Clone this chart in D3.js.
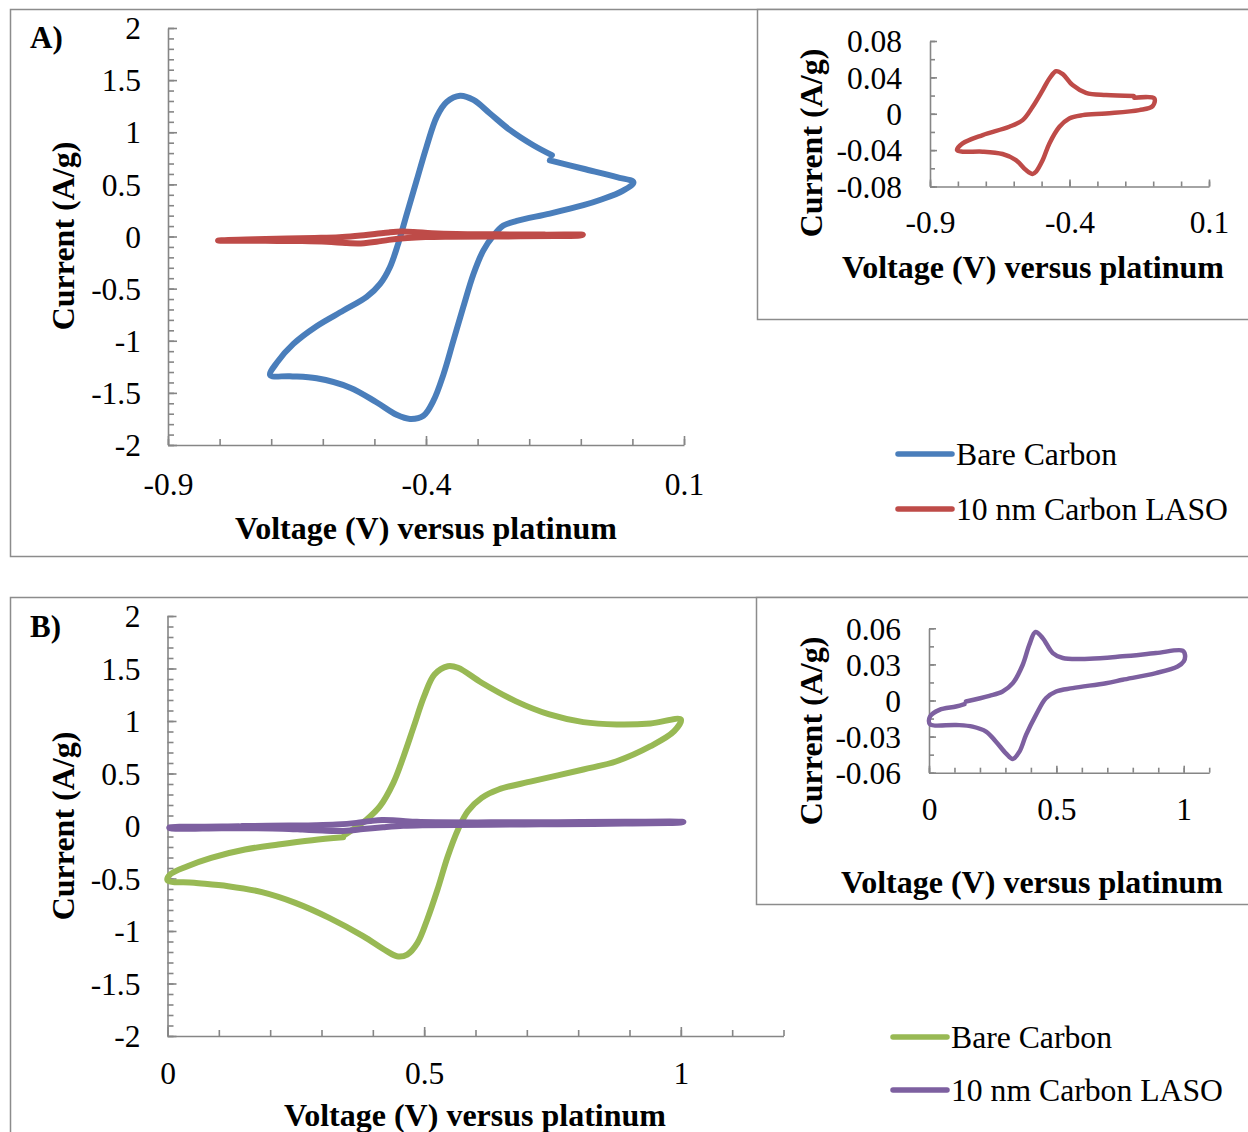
<!DOCTYPE html>
<html>
<head>
<meta charset="utf-8">
<script src="https://cdn.jsdelivr.net/npm/d3@7"></script>
<style>
  html, body { margin: 0; padding: 0; background: #fff; }
  svg { display: block; }
  text { font-family: "Liberation Serif", "Times New Roman", serif; fill: #000; }
</style>
</head>
<body>
<script>
// ---------------- DATA ----------------
// Panel A: Bare Carbon (voltage V, current A/g), in scan order
const panelA_bare = [
  [-0.160,0.73],[-0.095,0.65],[-0.030,0.57],[0.002,0.52],[-0.018,0.44],[-0.063,0.35],
  [-0.095,0.30],[-0.160,0.22],[-0.224,0.15],[-0.250,0.105],[-0.269,0.01],[-0.289,-0.135],
  [-0.308,-0.36],[-0.328,-0.68],[-0.347,-1.0],[-0.366,-1.32],[-0.386,-1.58],[-0.405,-1.72],
  [-0.431,-1.75],[-0.457,-1.71],[-0.496,-1.59],[-0.547,-1.45],[-0.612,-1.36],[-0.664,-1.34],
  [-0.702,-1.33],[-0.689,-1.21],[-0.657,-1.03],[-0.612,-0.86],[-0.560,-0.71],[-0.515,-0.58],
  [-0.489,-0.455],[-0.470,-0.295],[-0.454,-0.07],[-0.437,0.22],[-0.418,0.54],[-0.399,0.86],
  [-0.379,1.15],[-0.360,1.29],[-0.334,1.35],[-0.308,1.31],[-0.276,1.18],[-0.237,1.02],
  [-0.192,0.875],[-0.156,0.78]
];
// Panel A: 10 nm Carbon LASO
const panelA_laso = [
  [-0.168,0.0175],[-0.096,0.0168],[-0.102,0.0084],[-0.150,0.004],[-0.269,0.0004],
  [-0.353,-0.0015],[-0.401,-0.0051],[-0.436,-0.0143],[-0.472,-0.0326],[-0.496,-0.0509],
  [-0.520,-0.0637],[-0.532,-0.0662],[-0.556,-0.0619],[-0.592,-0.0509],[-0.640,-0.0443],
  [-0.711,-0.0417],[-0.783,-0.0417],[-0.803,-0.040],[-0.783,-0.0326],[-0.711,-0.0234],
  [-0.616,-0.0143],[-0.568,-0.007],[-0.532,0.0077],[-0.496,0.026],[-0.472,0.0388],
  [-0.448,0.0468],[-0.424,0.0436],[-0.389,0.0315],[-0.341,0.023],[-0.269,0.0205],
  [-0.170,0.0195]
];
// Panel B: Bare Carbon
const panelB_bare = [
  [0.345,-0.085],[0.361,-0.033],[0.388,0.062],[0.414,0.189],[0.440,0.411],[0.460,0.665],
  [0.480,0.951],[0.500,1.236],[0.520,1.443],[0.546,1.522],[0.566,1.507],[0.612,1.364],
  [0.678,1.189],[0.744,1.062],[0.810,0.989],[0.875,0.967],[0.941,0.976],[1.0,1.014],
  [0.987,0.903],[0.941,0.760],[0.875,0.617],[0.810,0.538],[0.711,0.427],[0.645,0.348],
  [0.612,0.268],[0.585,0.141],[0.566,-0.033],[0.546,-0.288],[0.526,-0.605],[0.506,-0.890],
  [0.487,-1.113],[0.467,-1.224],[0.447,-1.240],[0.427,-1.192],[0.381,-1.049],[0.315,-0.875],
  [0.249,-0.732],[0.184,-0.630],[0.118,-0.573],[0.052,-0.541],[0.0,-0.516],[0.005,-0.462],
  [0.039,-0.383],[0.085,-0.303],[0.151,-0.224],[0.216,-0.176],[0.282,-0.135],[0.342,-0.108]
];
// Panel B: 10 nm Carbon LASO
const panelB_laso = [
  [0.145,-0.0008],[0.237,0.0039],[0.289,0.0075],[0.329,0.0144],[0.368,0.0297],[0.394,0.0464],
  [0.418,0.0569],[0.446,0.052],[0.486,0.0394],[0.525,0.0353],[0.630,0.0347],[0.760,0.0367],
  [0.891,0.0394],[0.996,0.0414],[1.005,0.038],[1.0,0.0325],[0.976,0.0283],[0.891,0.0228],
  [0.760,0.0172],[0.695,0.0144],[0.564,0.0103],[0.499,0.0075],[0.459,0.0019],[0.420,-0.0119],
  [0.381,-0.0286],[0.355,-0.0425],[0.329,-0.0486],[0.302,-0.0439],[0.263,-0.0342],
  [0.224,-0.0258],[0.171,-0.0217],[0.106,-0.0203],[0.004,-0.0197],[0.004,-0.0133],
  [0.041,-0.0078],[0.106,-0.005],[0.139,-0.003]
];

// Tick labels
const mainA_xTicks = [-0.9, -0.4, 0.1];
const mainA_yTicks = [2, 1.5, 1, 0.5, 0, -0.5, -1, -1.5, -2];
const insetA_xTicks = [-0.9, -0.4, 0.1];
const insetA_yTicks = [0.08, 0.04, 0, -0.04, -0.08];
const mainB_xTicks = [0, 0.5, 1];
const mainB_yTicks = [2, 1.5, 1, 0.5, 0, -0.5, -1, -1.5, -2];
const insetB_xTicks = [0, 0.5, 1];
const insetB_yTicks = [0.06, 0.03, 0, -0.03, -0.06];

const seriesNames = ["Bare Carbon", "10 nm Carbon LASO"];
const colorsA = ["#4A7EBB", "#BE4B48"];
const colorsB = ["#98B954", "#7D60A0"];

const xTitle = "Voltage (V) versus platinum";
const yTitle = "Current (A/g)";

// ---------------- DRAW ----------------
const W = 1248, H = 1132;
const svg = d3.select("body").append("svg").attr("width", W).attr("height", H);
const FRAME = "#8C8C8C", AXIS = "#868686";
const TICKF = 31.5, TITLEF = 32, LEGF = 31.7;

function frame(x, y, w, h) {
  svg.append("rect").attr("x", x).attr("y", y).attr("width", w).attr("height", h)
    .attr("fill", "#fff").attr("stroke", FRAME).attr("stroke-width", 1.5);
}

function chart(o) {
  const x = d3.scaleLinear().domain(o.xDom).range(o.xRange);
  const y = d3.scaleLinear().domain(o.yDom).range(o.yRange);
  const g = svg.append("g");
  const x0 = o.xRange[0], yb = o.yRange[0];

  const xMinor = d3.range(0, Math.round((o.xDom[1] - o.xDom[0]) / o.xMinor) + 1).map(i => o.xDom[0] + i * o.xMinor);
  const yMinor = d3.range(0, Math.round((o.yDom[1] - o.yDom[0]) / o.yMinor) + 1).map(i => o.yDom[0] + i * o.yMinor);

  const gx = g.append("g").attr("transform", `translate(0,${yb})`);
  gx.call(d3.axisBottom(x).tickValues(xMinor).tickSizeInner(-o.minorLen).tickSizeOuter(0).tickFormat(""));
  const gx2 = g.append("g").attr("transform", `translate(0,${yb})`);
  gx2.call(d3.axisBottom(x).tickValues(o.xTicks).tickSizeInner(-o.majorLen).tickSizeOuter(0)
    .tickPadding(0).tickFormat(d => String(d)));
  gx2.select(".domain").remove();
  gx2.selectAll("text").attr("y", o.xLabelBase - yb).attr("dy", 0)
    .style("font-size", TICKF + "px").style("font-family", "Liberation Serif, serif").attr("fill", "#000");

  const gy = g.append("g").attr("transform", `translate(${x0},0)`);
  gy.call(d3.axisLeft(y).tickValues(yMinor).tickSizeInner(-o.minorLen).tickSizeOuter(0).tickFormat(""));
  const gy2 = g.append("g").attr("transform", `translate(${x0},0)`);
  gy2.call(d3.axisLeft(y).tickValues(o.yTicks).tickSizeInner(-o.majorLen).tickSizeOuter(0)
    .tickPadding(o.yPad).tickFormat(d => String(d)));
  gy2.select(".domain").remove();
  gy2.selectAll("text").attr("dy", "0.34em")
    .style("font-size", TICKF + "px").style("font-family", "Liberation Serif, serif").attr("fill", "#000");

  g.selectAll(".domain, .tick line").attr("stroke", AXIS).attr("stroke-width", 1.6);

  g.append("text").attr("x", o.xTitleX).attr("y", o.xTitleBase).attr("text-anchor", "middle")
    .attr("font-weight", "bold").style("font-size", TITLEF + "px").text(xTitle);
  g.append("text").attr("transform", `translate(${o.yTitleX},${o.yTitleY}) rotate(-90)`)
    .attr("text-anchor", "middle").attr("dy", "0.32em")
    .attr("font-weight", "bold").style("font-size", TITLEF + "px").text(yTitle);

  const line = d3.line().x(d => x(d[0])).y(d => y(d[1])).curve(d3.curveCatmullRom.alpha(0.5));
  o.series.forEach((s, i) => {
    g.append("path").datum(s).attr("d", line).attr("fill", "none")
      .attr("stroke", o.colors[i]).attr("stroke-width", o.lineW)
      .attr("stroke-linejoin", "round").attr("stroke-linecap", "round");
  });
}

function legend(items, colors, x1, x2, ys) {
  items.forEach((name, i) => {
    svg.append("line").attr("x1", x1).attr("x2", x2).attr("y1", ys[i]).attr("y2", ys[i])
      .attr("stroke", colors[i]).attr("stroke-width", 5.5).attr("stroke-linecap", "round");
    svg.append("text").attr("x", x2 + 4).attr("y", ys[i] + 10.5).style("font-size", LEGF + "px").text(name);
  });
}

// ----- Panel A -----
frame(10.5, 9.5, 1260, 547);
svg.append("text").attr("x", 30).attr("y", 48).attr("font-weight", "bold").style("font-size", "31px").text("A)");
chart({
  xDom: [-0.9, 0.1], xRange: [168, 684], yDom: [-2, 2], yRange: [445, 28],
  xMinor: 0.1, yMinor: 0.1, minorLen: 6, majorLen: 9,
  xTicks: mainA_xTicks, yTicks: mainA_yTicks, yPad: 27, xLabelBase: 495,
  xTitleX: 426, xTitleBase: 539, yTitleX: 64, yTitleY: 236,
  series: [panelA_bare, panelA_laso], colors: colorsA, lineW: 6
});
legend(seriesNames, colorsA, 898, 952, [454, 509]);

frame(757.5, 9.5, 520, 310);
chart({
  xDom: [-0.9, 0.1], xRange: [930, 1209], yDom: [-0.08, 0.08], yRange: [186.5, 41],
  xMinor: 0.1, yMinor: 0.02, minorLen: 5, majorLen: 7,
  xTicks: insetA_xTicks, yTicks: insetA_yTicks, yPad: 28, xLabelBase: 233,
  xTitleX: 1033, xTitleBase: 278, yTitleX: 812, yTitleY: 143,
  series: [panelA_laso], colors: [colorsA[1]], lineW: 4.5
});

// ----- Panel B -----
frame(10.5, 597.5, 1260, 600);
svg.append("text").attr("x", 30).attr("y", 637).attr("font-weight", "bold").style("font-size", "31px").text("B)");
chart({
  xDom: [0, 1.2], xRange: [167.5, 783.5], yDom: [-2, 2], yRange: [1036, 616],
  xMinor: 0.1, yMinor: 0.1, minorLen: 6, majorLen: 9,
  xTicks: mainB_xTicks, yTicks: mainB_yTicks, yPad: 27, xLabelBase: 1084,
  xTitleX: 475, xTitleBase: 1126, yTitleX: 64, yTitleY: 826,
  series: [panelB_bare, panelB_laso], colors: colorsB, lineW: 6
});
legend(seriesNames, colorsB, 893, 947, [1037, 1090]);

frame(756.5, 597.5, 520, 307);
chart({
  xDom: [0, 1.1], xRange: [929, 1209.2], yDom: [-0.06, 0.06], yRange: [772.7, 628.3],
  xMinor: 0.1, yMinor: 0.015, minorLen: 5, majorLen: 7,
  xTicks: insetB_xTicks, yTicks: insetB_yTicks, yPad: 28, xLabelBase: 820,
  xTitleX: 1032, xTitleBase: 893, yTitleX: 812, yTitleY: 731,
  series: [panelB_laso], colors: [colorsB[1]], lineW: 4.5
});
</script>
</body>
</html>
